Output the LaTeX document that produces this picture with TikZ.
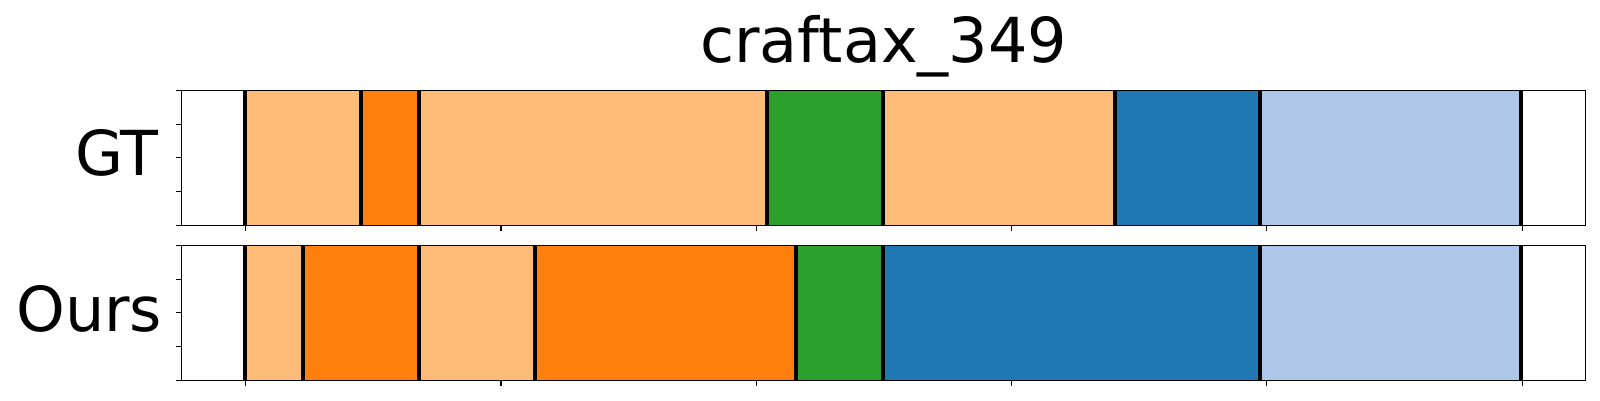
\documentclass[tikz,border=0pt]{standalone}
\usepackage{fontspec}
\setmainfont{DejaVu Sans}
\usepackage{tikz}
\definecolor{lorange}{HTML}{FFBB78}
\definecolor{dorange}{HTML}{FF7F0E}
\definecolor{dgreen}{HTML}{2CA02C}
\definecolor{dblue}{HTML}{1F77B4}
\definecolor{lblue}{HTML}{AEC7E8}
\tikzset{
  biglabel/.style={inner sep=0pt, font=\fontsize{62}{70}\selectfont},
  cut/.style={black, line width=4pt},
  spine/.style={black, line width=1.3pt},
  tick/.style={black, line width=1.1pt}
}
\begin{document}
\begin{tikzpicture}
[x=1pt,y=-1pt]
\useasboundingbox (0,0) rectangle (1600,400);

\node[biglabel, anchor=base] (title) at (883.7,62.7) {craftax\_349};
\node[biglabel, anchor=base east] (gt) at (159,175) {GT};
\node[biglabel, anchor=base east] (ours) at (162.5,331.5) {Ours};

% GT row
\foreach \from/\to/\col in {245.7/361/lorange,361/419/dorange,419/766.8/lorange,766.8/882.8/dgreen,882.8/1114.7/lorange,1114.7/1260.2/dblue,1260.2/1521/lblue}
\fill[\col] (\from,90.3) rectangle (\to,225.3);
\foreach \x in {245.2,361,419,766.8,882.8,1114.7,1260.2,1521}
\draw[cut] (\x,90.3) -- (\x,225.3);

% Ours row
\foreach \from/\to/\col in {245.7/303/lorange,303/419/dorange,419/535.2/lorange,535.2/796.3/dorange,796.3/882.8/dgreen,882.8/1260.2/dblue,1260.2/1521/lblue}
\fill[\col] (\from,245.3) rectangle (\to,380.3);
\foreach \x in {245.2,303,419,535.2,796.3,882.8,1260.2,1521}
\draw[cut] (\x,245.3) -- (\x,380.3);

% axes
\foreach \top/\bot in {90.3/225.3,245.3/380.3} {
\draw[spine] (181.7,\top) rectangle (1585.7,\bot);
\foreach \k in {0,...,4}
\draw[tick] (181.7,{\top+33.75*\k}) -- (175.7,{\top+33.75*\k});
\foreach \k in {0,...,5}
\draw[tick] ({245.7+255.3*\k},\bot) -- ({245.7+255.3*\k},\bot+5.5);
}
\end{tikzpicture}
\end{document}
